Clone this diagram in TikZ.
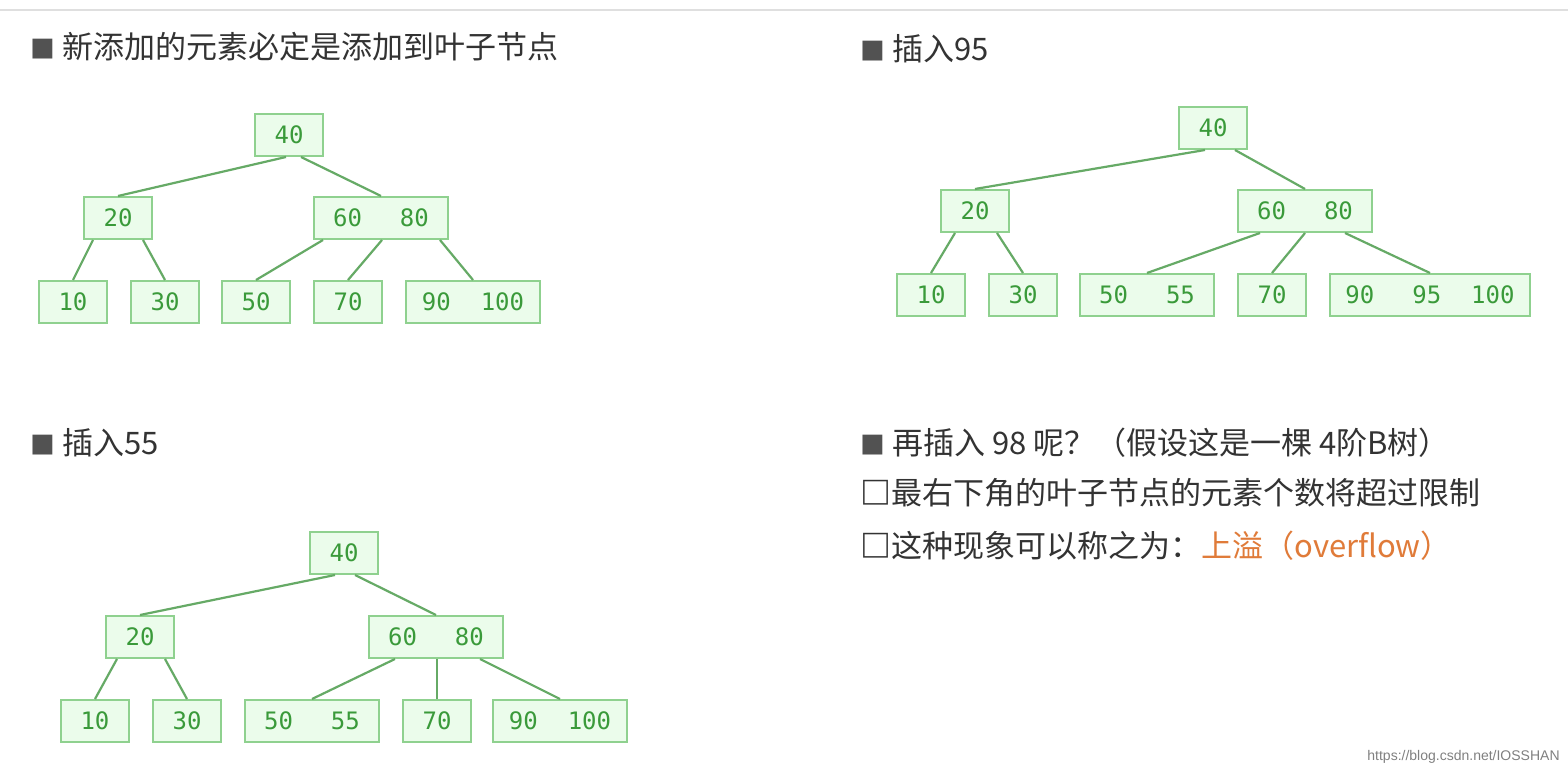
\documentclass[tikz,border=0pt]{standalone}
\usepackage{fontspec}
\newfontfamily\cjk{Noto Sans CJK SC}
\newfontfamily\mono{DejaVu Sans Mono}
\definecolor{nfill}{HTML}{EBFCEB}
\definecolor{ndraw}{HTML}{8FD18F}
\definecolor{ntext}{HTML}{3A9A3A}
\definecolor{edge}{HTML}{66AA66}
\definecolor{hdr}{HTML}{333333}
\definecolor{orng}{HTML}{E07B39}
\tikzset{
  bn/.style={draw=ndraw,fill=nfill,line width=1pt,text=ntext,font=\mono\fontsize{12}{14}\selectfont,minimum height=21pt,minimum width=#1,inner sep=0pt},
  bn/.default=34pt,
  ed/.style={draw=edge,line width=1.1pt},
  hd/.style={anchor=west,text=hdr,font=\cjk\fontsize{15.5}{18}\selectfont,inner sep=0pt}
}
\newcommand{\gA}{\hspace{19pt}}
\newcommand{\gB}{\hspace{15pt}}
\newcommand{\bul}{\textcolor{hdr!85}{\scalebox{0.8}{■}}}
\begin{document}
\begin{tikzpicture}[x=0.5pt,y=-0.5pt]
\useasboundingbox (0,0) rectangle (1568,774);
\fill[white] (0,0) rectangle (1568,774);
\draw[gray!25,line width=1pt] (0,10) -- (1568,10);
% headers
\node[hd] (h1) at (30,47) {\bul\ 新添加的元素必定是添加到叶子节点};
\node[hd] (h2) at (860,49) {\bul\ 插入95};
\node[hd] (h3) at (30,443) {\bul\ 插入55};
\node[hd] (h4) at (860,443) {\bul\ 再插入 98 呢？（假设这是一棵 4阶B树）};
\node[hd] (h5) at (860,493) {\textbf{□}最右下角的叶子节点的元素个数将超过限制};
\node[hd] (h6) at (860,546) {\textbf{□}这种现象可以称之为：\textcolor{orng}{上溢（overflow）}};
\node[anchor=east,text=gray,font=\fontspec{Liberation Sans}\fontsize{7}{8}\selectfont,inner sep=0pt] (url) at (1560,757) {https://blog.csdn.net/IOSSHAN};
% tree 1
\node[bn] (a40) at (289,135) {40};
\node[bn] (a20) at (118,218) {20};
\node[bn=67pt] (a68) at (381,218) {60\gA80};
\node[bn] (a10) at (73,302) {10};
\node[bn] (a30) at (165,302) {30};
\node[bn] (a50) at (256,302) {50};
\node[bn] (a70) at (348,302) {70};
\node[bn=67pt] (a91) at (473,302) {90\gB100};
\draw[ed] ([xshift=-1.5]a40.south) -- (a20.north);
\draw[ed] ([xshift=6]a40.south) -- (a68.north);
\draw[ed] ([xshift=-12.5]a20.south) -- (a10.north);
\draw[ed] ([xshift=12.5]a20.south) -- (a30.north);
\draw[ed] ([xshift=-29]a68.south) -- (a50.north);
\draw[ed] ([xshift=0.5]a68.south) -- (a70.north);
\draw[ed] ([xshift=29.5]a68.south) -- (a91.north);
% tree 2
\node[bn] (b40) at (1213,128) {40};
\node[bn] (b20) at (975,211) {20};
\node[bn=67pt] (b68) at (1305,211) {60\gA80};
\node[bn] (b10) at (931,295) {10};
\node[bn] (b30) at (1023,295) {30};
\node[bn=67pt] (b55) at (1147,295) {50\gA55};
\node[bn] (b70) at (1272,295) {70};
\node[bn=100pt] (b91) at (1430,295) {90\gA95\gB100};
\draw[ed] ([xshift=-4]b40.south) -- (b20.north);
\draw[ed] ([xshift=11]b40.south) -- (b68.north);
\draw[ed] ([xshift=-10]b20.south) -- (b10.north);
\draw[ed] ([xshift=11]b20.south) -- (b30.north);
\draw[ed] ([xshift=-22.5]b68.south) -- (b55.north);
\draw[ed] ([xshift=0]b68.south) -- (b70.north);
\draw[ed] ([xshift=20]b68.south) -- (b91.north);
% tree 3
\node[bn] (c40) at (344,553) {40};
\node[bn] (c20) at (140,637) {20};
\node[bn=67pt] (c68) at (436,637) {60\gA80};
\node[bn] (c10) at (95,721) {10};
\node[bn] (c30) at (187,721) {30};
\node[bn=67pt] (c55) at (312,721) {50\gA55};
\node[bn] (c70) at (437,721) {70};
\node[bn=67pt] (c91) at (560,721) {90\gB100};
\draw[ed] ([xshift=-4.5]c40.south) -- (c20.north);
\draw[ed] ([xshift=5.5]c40.south) -- (c68.north);
\draw[ed] ([xshift=-11.5]c20.south) -- (c10.north);
\draw[ed] ([xshift=12.5]c20.south) -- (c30.north);
\draw[ed] ([xshift=-20.5]c68.south) -- (c55.north);
\draw[ed] ([xshift=0.5]c68.south) -- (c70.north);
\draw[ed] ([xshift=22]c68.south) -- (c91.north);
\end{tikzpicture}
\end{document}
